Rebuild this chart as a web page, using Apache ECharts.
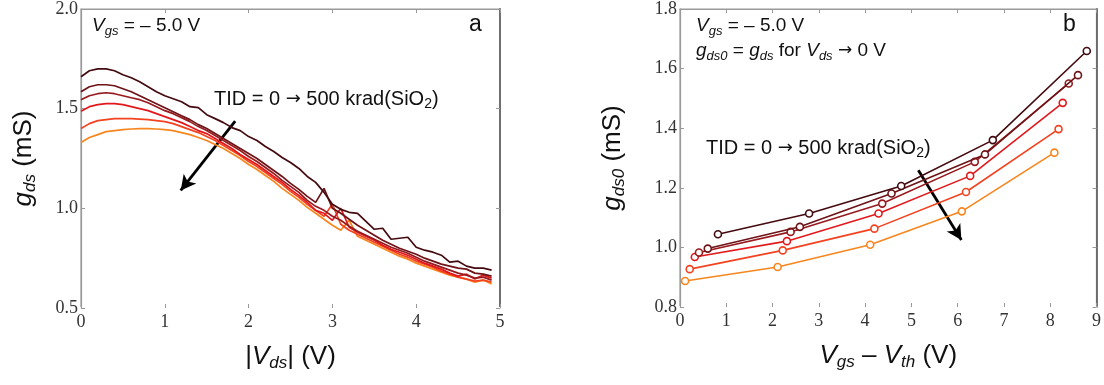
<!DOCTYPE html>
<html>
<head>
	<meta charset="utf-8">
	<title>gds vs Vds and gds0 vs Vgs-Vth</title>
	<style>
		html, body { margin: 0; padding: 0; background: #fff; }
		#chart { width: 1104px; height: 385px; }
	</style>
	<script src="https://cdn.jsdelivr.net/npm/echarts@6/dist/echarts.min.js"></script>
</head>
<body>
<div id="chart"></div>
<script>

// panel a: |Vds| (V) sweep and gds (mS) for each dose, 0 -> 500 krad(SiO2)
var vds = [0, 0.1, 0.2, 0.3, 0.4, 0.5, 0.6, 0.7, 0.8, 0.9,
	1.0, 1.1, 1.2, 1.3, 1.4, 1.5, 1.6, 1.7, 1.8, 1.9,
	2.0, 2.1, 2.2, 2.3, 2.4, 2.5, 2.6, 2.7, 2.8, 2.9,
	3.0, 3.1, 3.2, 3.3, 3.4, 3.5, 3.6, 3.7, 3.8, 3.9,
	4.0, 4.1, 4.2, 4.3, 4.4, 4.5, 4.6, 4.7, 4.8, 4.9];

var gds1 = [1.66, 1.69, 1.70, 1.70, 1.69, 1.67, 1.655, 1.635, 1.61, 1.585,
	1.565, 1.55, 1.535, 1.51, 1.505, 1.47, 1.45, 1.43, 1.405, 1.39,
	1.36, 1.34, 1.31, 1.285, 1.255, 1.23, 1.2, 1.16, 1.13, 1.08,
	1.02, 0.995, 0.98, 0.975, 0.935, 0.895, 0.9, 0.845, 0.85, 0.855,
	0.805, 0.79, 0.78, 0.765, 0.73, 0.735, 0.71, 0.70, 0.70, 0.69];

var gds2 = [1.585, 1.61, 1.62, 1.62, 1.615, 1.6, 1.585, 1.565, 1.545, 1.525,
	1.505, 1.485, 1.465, 1.445, 1.42, 1.4, 1.375, 1.35, 1.325, 1.3,
	1.275, 1.25, 1.22, 1.19, 1.16, 1.125, 1.095, 1.06, 1.03, 1.10,
	1.0, 0.975, 0.945, 0.915, 0.89, 0.865, 0.84, 0.82, 0.8, 0.785,
	0.77, 0.75, 0.735, 0.72, 0.71, 0.70, 0.695, 0.675, 0.67, 0.66];

var gds3 = [1.545, 1.565, 1.575, 1.58, 1.575, 1.565, 1.555, 1.545, 1.53, 1.51,
	1.49, 1.475, 1.455, 1.435, 1.41, 1.39, 1.365, 1.34, 1.315, 1.29,
	1.26, 1.235, 1.205, 1.175, 1.14, 1.11, 1.08, 1.04, 1.01, 0.99,
	0.96, 0.94, 0.91, 0.885, 0.865, 0.845, 0.825, 0.805, 0.79, 0.775,
	0.755, 0.735, 0.72, 0.705, 0.69, 0.675, 0.665, 0.65, 0.655, 0.64];

var gds4 = [1.487, 1.51, 1.52, 1.525, 1.525, 1.52, 1.51, 1.5, 1.49, 1.475,
	1.46, 1.445, 1.43, 1.41, 1.39, 1.375, 1.35, 1.325, 1.3, 1.27,
	1.245, 1.22, 1.19, 1.16, 1.13, 1.095, 1.065, 1.03, 0.99, 0.975,
	0.94, 1.0, 0.905, 0.88, 0.86, 0.84, 0.815, 0.795, 0.78, 0.765,
	0.745, 0.725, 0.71, 0.695, 0.675, 0.66, 0.67, 0.645, 0.665, 0.65];

var gds5 = [1.40, 1.425, 1.44, 1.445, 1.45, 1.45, 1.45, 1.448, 1.445, 1.44,
	1.435, 1.425, 1.41, 1.395, 1.38, 1.36, 1.34, 1.315, 1.29, 1.265,
	1.235, 1.21, 1.18, 1.15, 1.12, 1.085, 1.055, 1.02, 0.99, 0.96,
	1.02, 0.92, 0.89, 0.87, 0.85, 0.83, 0.81, 0.79, 0.77, 0.755,
	0.735, 0.72, 0.705, 0.685, 0.67, 0.655, 0.645, 0.635, 0.64, 0.63];

var gds6 = [1.33, 1.355, 1.37, 1.385, 1.39, 1.395, 1.398, 1.4, 1.4, 1.398,
	1.395, 1.39, 1.38, 1.37, 1.355, 1.34, 1.32, 1.3, 1.275, 1.25,
	1.22, 1.195, 1.165, 1.135, 1.1, 1.07, 1.04, 1.005, 0.975, 0.945,
	0.915, 0.89, 0.94, 0.86, 0.84, 0.82, 0.8, 0.78, 0.76, 0.745,
	0.725, 0.71, 0.695, 0.68, 0.665, 0.655, 0.645, 0.63, 0.64, 0.62];

// panel b: Vgs - Vth (V) and gds0 (mS) for each dose
var vov1 = [0.82, 2.79, 4.78, 6.76, 8.79];
var g01 = [1.044, 1.114, 1.206, 1.360, 1.659];
var vov2 = [0.60, 2.59, 4.57, 6.59, 8.60];
var g02 = [0.996, 1.069, 1.181, 1.312, 1.578];
var vov3 = [0.41, 2.39, 4.37, 6.37, 8.40];
var g03 = [0.983, 1.052, 1.147, 1.287, 1.550];
var vov4 = [0.32, 2.31, 4.29, 6.27, 8.27];
var g04 = [0.968, 1.021, 1.114, 1.240, 1.485];
var vov5 = [0.21, 2.22, 4.20, 6.18, 8.18];
var g05 = [0.927, 0.990, 1.063, 1.186, 1.397];
var vov6 = [0.11, 2.11, 4.11, 6.09, 8.09];
var g06 = [0.887, 0.934, 1.009, 1.121, 1.318];

var colors = ['#430b10', '#6e1317', '#961a1e', '#e2191c', '#f3421f', '#f7861e'];

var gdsList = [gds1, gds2, gds3, gds4, gds5, gds6];
var vovList = [vov1, vov2, vov3, vov4, vov5, vov6];
var g0List = [g01, g02, g03, g04, g05, g06];

function pairs (xs, ys) {
	return xs.map(function (x, i) {
		return [x, ys[i]];
	});
}

var sans = 'Liberation Sans, Arial, sans-serif';
var serif = 'Liberation Serif, Times New Roman, serif';

var rich = {
	i: { fontFamily: sans, fontSize: 26, fontStyle: 'italic', color: '#111', lineHeight: 30 },
	n: { fontFamily: sans, fontSize: 26, color: '#111', lineHeight: 30 },
	s: { fontFamily: sans, fontSize: 17, fontStyle: 'italic', color: '#111', lineHeight: 14, verticalAlign: 'bottom' }
};

// bottom axis carries labels, top one only adds the inner ticks
function baseX (grid, max, bottom) {
	return {
		type: 'value', gridIndex: grid, min: 0, max: max, interval: 1,
		position: bottom ? 'bottom' : 'top',
		axisLine: { show: true, onZero: false, lineStyle: { color: bottom ? '#fff' : '#999', width: bottom ? 2 : 1.2 } },
		axisTick: { show: true, inside: true, length: 4, lineStyle: { color: '#999' } },
		axisLabel: { show: bottom, fontFamily: serif, fontSize: 18, color: '#333', margin: 5 },
		splitLine: { show: false }
	};
}

function baseY (grid, min, max, step, left) {
	return {
		type: 'value', gridIndex: grid, min: min, max: max, interval: step,
		position: left ? 'left' : 'right',
		axisLine: { show: true, onZero: false, lineStyle: { color: left ? '#999' : '#666', width: left ? 1.2 : 1.8 } },
		axisTick: { show: true, inside: true, length: 4, lineStyle: { color: '#999' } },
		axisLabel: {
			show: left, fontFamily: serif, fontSize: 18, color: '#333', margin: 3,
			formatter: function (v) { return v.toFixed(1); }
		},
		splitLine: { show: false }
	};
}

var xAxes = [baseX(0, 5, true), baseX(0, 5, false), baseX(1, 9, true), baseX(1, 9, false)];
xAxes[0].name = '{n||}{i|V}{s|ds}{n|| (V)}';
xAxes[0].nameLocation = 'middle';
xAxes[0].nameGap = 34;
xAxes[0].nameTextStyle = { rich: rich };
xAxes[2].name = '{i|V}{s|gs}{n| – }{i|V}{s|th}{n| (V)}';
xAxes[2].nameLocation = 'middle';
xAxes[2].nameGap = 34;
xAxes[2].nameTextStyle = { rich: rich };

var yAxes = [baseY(0, 0.5, 2.0, 0.5, true), baseY(0, 0.5, 2.0, 0.5, false),
	baseY(1, 0.8, 1.8, 0.2, true), baseY(1, 0.8, 1.8, 0.2, false)];
yAxes[0].name = '{i|g}{s|ds}{n| (mS)}';
yAxes[0].nameLocation = 'middle';
yAxes[0].nameGap = 42;
yAxes[0].nameTextStyle = { rich: rich };
yAxes[2].name = '{i|g}{s|ds0}{n| (mS)}';
yAxes[2].nameLocation = 'middle';
yAxes[2].nameGap = 52;
yAxes[2].nameTextStyle = { rich: rich };

var series = [];
gdsList.forEach(function (g, k) {
	series.push({
		type: 'line', xAxisIndex: 0, yAxisIndex: 0,
		data: pairs(vds, g), showSymbol: false, silent: true,
		lineStyle: { color: colors[k], width: 1.7 },
		z: 10 - k
	});
});
vovList.forEach(function (v, k) {
	series.push({
		type: 'line', xAxisIndex: 2, yAxisIndex: 2,
		data: pairs(v, g0List[k]), symbol: 'circle', symbolSize: 7, showSymbol: true,
		itemStyle: { color: '#fff', borderColor: colors[k], borderWidth: 1.6 },
		lineStyle: { color: colors[k], width: 1.6 },
		z: 10 - k
	});
});
series.push({ type: 'line', xAxisIndex: 1, yAxisIndex: 1, data: [] });
series.push({ type: 'line', xAxisIndex: 3, yAxisIndex: 3, data: [] });

// arrows showing increasing dose
function arrowSeries (xi, yi, from, to) {
	return {
		type: 'line', xAxisIndex: xi, yAxisIndex: yi, data: [], silent: true,
		markLine: {
			silent: true, animation: false,
			symbol: ['none', 'arrow'], symbolSize: [12, 15],
			lineStyle: { color: '#000', width: 2.8, type: 'solid' },
			label: { show: false },
			data: [[{ coord: from }, { coord: to }]]
		}
	};
}
series.push(arrowSeries(0, 0, [1.84, 1.437], [1.19, 1.09]));
series.push(arrowSeries(2, 2, [5.15, 1.259], [6.08, 1.025]));

var tRich = {
	i: { fontFamily: sans, fontSize: 19, fontStyle: 'italic', fill: '#111', lineHeight: 24 },
	n: { fontFamily: sans, fontSize: 19, fill: '#111', lineHeight: 24 },
	a: { fontFamily: 'DejaVu Sans', fontSize: 17, fill: '#111', lineHeight: 24 },
	s: { fontFamily: sans, fontSize: 13, fontStyle: 'italic', fill: '#111', lineHeight: 10, verticalAlign: 'bottom' },
	u: { fontFamily: sans, fontSize: 13, fill: '#111', lineHeight: 10, verticalAlign: 'bottom' }
};

var tidRich = {
	n: { fontFamily: sans, fontSize: 20, fill: '#111', lineHeight: 24 },
	a: { fontFamily: 'DejaVu Sans', fontSize: 18, fill: '#111', lineHeight: 24 },
	u: { fontFamily: sans, fontSize: 14, fill: '#111', lineHeight: 10, verticalAlign: 'bottom' }
};

function label (x, y, text, r) {
	return {
		type: 'text', left: x, top: y,
		style: { text: text, rich: r || tRich, font: '19px ' + sans, fill: '#111' }
	};
}

var letterRich = { n: { fontFamily: sans, fontSize: 23, fill: '#111' } };

var graphics = [
	label(92, 16, '{i|V}{s|gs}{n| = – 5.0 V}'),
	label(469, 13, '{n|a}', letterRich),
	label(214, 89, '{n|TID = 0 }{a|→}{n| 500 krad(SiO}{u|2}{n|)}', tidRich),
	label(696, 16, '{i|V}{s|gs}{n| = – 5.0 V}'),
	label(696, 41, '{i|g}{s|ds0}{n| = }{i|g}{s|ds}{n| for }{i|V}{s|ds}{n| }{a|→}{n| 0 V}'),
	label(1063, 13, '{n|b}', letterRich),
	label(706, 138, '{n|TID = 0 }{a|→}{n| 500 krad(SiO}{u|2}{n|)}', tidRich)
];

var chart = echarts.init(document.getElementById('chart'));
chart.setOption({
	animation: false,
	backgroundColor: '#fff',
	grid: [
		{ left: 81, right: 604, top: 7, bottom: 77, show: true, borderColor: '#999', borderWidth: 1.2 },
		{ left: 680, right: 7, top: 7, bottom: 78, show: true, borderColor: '#999', borderWidth: 1.2 }
	],
	xAxis: xAxes,
	yAxis: yAxes,
	series: series,
	graphic: graphics
});

</script>
</body>
</html>
